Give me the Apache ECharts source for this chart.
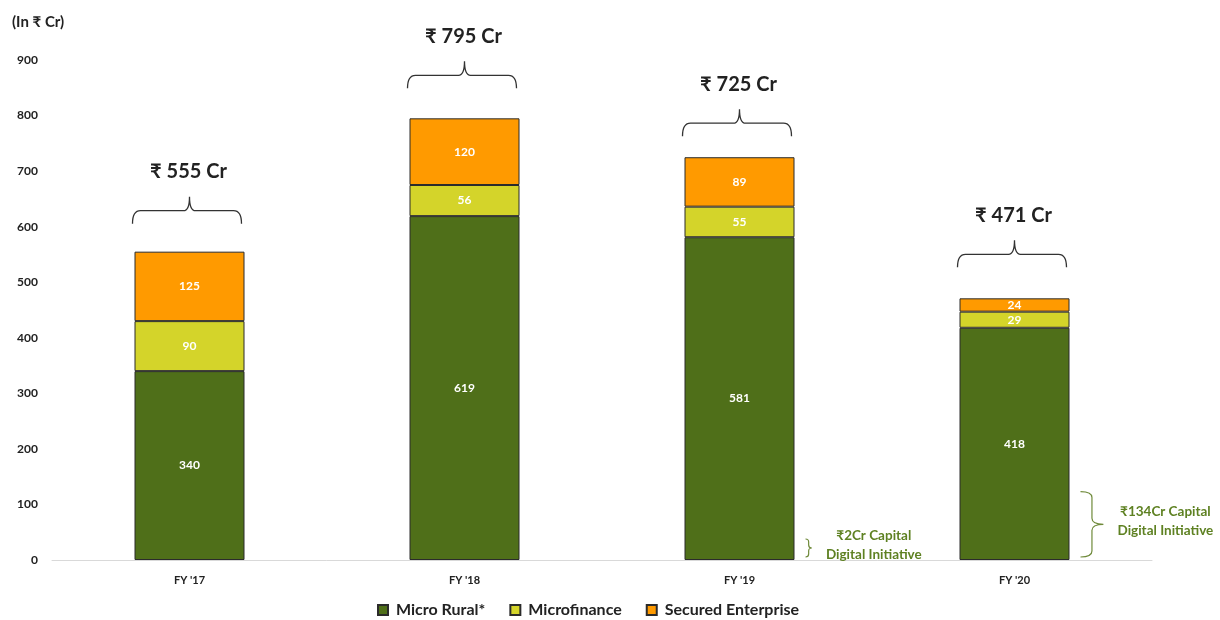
<!DOCTYPE html>
<html>
<head>
<meta charset="utf-8">
<script src="https://cdn.jsdelivr.net/npm/echarts@6/dist/echarts.min.js"></script>
<style>
  html, body { margin: 0; padding: 0; background: #fff; }
  #chart { width: 1220px; height: 620px; }
</style>
</head>
<body>
<div id="chart"></div>
<script>
// Disbursement mix by segment, in ₹ Cr
const categories = ["FY '17", "FY '18", "FY '19", "FY '20"];
const microRural = [340, 619, 581, 418];
const microfinance = [90, 56, 55, 29];
const securedEnterprise = [125, 120, 89, 24];
const totals = [555, 795, 725, 471];
// Capital Digital Initiative share within Micro Rural (only FY '19 and FY '20)
const capitalDigital = [null, null, 2, 134];
const yTicks = { min: 0, max: 900, interval: 100 };

// Extra vertical gap (px) between each stack and its total brace
const braceLift = [0, 2, -7, 3];

const FONT = 'Lato, "Noto Sans", "DejaVu Sans", sans-serif';
const C_RURAL = '#4F6F19';
const C_MFI = '#D4D42A';
const C_SEC = '#FF9A00';
const C_NOTE = '#5E8122';

const inBarLabel = {
  show: true,
  position: 'inside',
  color: '#fff',
  fontFamily: FONT,
  fontWeight: 'bold',
  fontSize: 12
};

function barSeries(name, data, color) {
  return {
    name: name,
    type: 'bar',
    stack: 'total',
    barWidth: '40%',
    data: data,
    itemStyle: { color: color, borderColor: '#2b2b2b', borderWidth: 1 },
    label: inBarLabel,
    emphasis: { disabled: true }
  };
}

// Curly brace over each stack with the total above it
function renderTotal(params, api) {
  const idx = api.value(0);
  const total = api.value(1);
  const top = api.coord([idx, total]);
  const band = api.size([1, 0])[0];
  const w = band * 0.4 / 2;
  const lift = braceLift[idx] || 0;
  const cx = top[0], yb = top[1] - lift;
  const x0 = cx - w - 2, x1 = cx + w - 3;
  const yEnd = yb - 28, yLine = yb - 41, yTip = yb - 55;
  const path = 'M' + x0 + ' ' + yEnd +
    ' Q' + x0 + ' ' + yLine + ' ' + (x0 + 8) + ' ' + yLine +
    ' L' + (cx - 6) + ' ' + yLine +
    ' Q' + cx + ' ' + yLine + ' ' + cx + ' ' + yTip +
    ' Q' + cx + ' ' + yLine + ' ' + (cx + 6) + ' ' + yLine +
    ' L' + (x1 - 8) + ' ' + yLine +
    ' Q' + x1 + ' ' + yLine + ' ' + x1 + ' ' + yEnd;
  return {
    type: 'group',
    children: [
      { type: 'path', shape: { pathData: path },
        style: { fill: null, stroke: '#333', lineWidth: 1.3 } },
      { type: 'text', x: cx - 1, y: yb - 80,
        style: { text: '₹ ' + total + ' Cr', fill: '#222', font: 'bold 20px ' + FONT,
                 align: 'center', verticalAlign: 'middle' } }
    ]
  };
}

// Right-facing brace beside the bar marking the Capital Digital Initiative part
function renderCapital(params, api) {
  const idx = api.value(0);
  const val = api.value(1);
  const base = api.coord([idx, 0]);
  const upper = api.coord([idx, val]);
  const band = api.size([1, 0])[0];
  const right = base[0] + band * 0.4 / 2;
  const yBot = base[1] - 3;
  const yTop = Math.min(upper[1] + 6, yBot - 18);
  const h = yBot - yTop;
  const bw = Math.min(23, h * 0.35);
  const xs = right + 11;
  const xm = xs + bw / 2;
  const xt = xs + bw;
  const ym = (yTop + yBot) / 2;
  const r = Math.min(6, h / 6);
  const path = 'M' + xs + ' ' + yTop +
    ' Q' + xm + ' ' + yTop + ' ' + xm + ' ' + (yTop + r) +
    ' L' + xm + ' ' + (ym - r) +
    ' Q' + xm + ' ' + ym + ' ' + xt + ' ' + ym +
    ' Q' + xm + ' ' + ym + ' ' + xm + ' ' + (ym + r) +
    ' L' + xm + ' ' + (yBot - r) +
    ' Q' + xm + ' ' + yBot + ' ' + xs + ' ' + yBot;
  return {
    type: 'group',
    children: [
      { type: 'path', shape: { pathData: path },
        style: { fill: null, stroke: '#6F8A3A', lineWidth: 1.2 } },
      { type: 'text', x: xt + 62, y: ym - 3,
        style: { text: '₹' + val + 'Cr Capital\nDigital Initiative', fill: C_NOTE,
                 font: 'bold 13.5px ' + FONT, lineHeight: 19,
                 align: 'center', verticalAlign: 'middle' } }
    ]
  };
}

const chart = echarts.init(document.getElementById('chart'), null, { renderer: 'canvas' });
chart.setOption({
  animation: false,
  backgroundColor: '#fff',
  textStyle: { fontFamily: FONT },
  title: {
    text: '(In ₹ Cr)',
    left: 7, top: 10,
    textStyle: { fontFamily: FONT, fontWeight: 'bold', fontSize: 15, color: '#222' }
  },
  grid: { left: 52, right: 68, top: 60, bottom: 60 },
  legend: {
    top: 597,
    left: 372,
    icon: 'rect',
    itemWidth: 10,
    itemHeight: 10,
    itemGap: 24,
    data: ['Micro Rural*', 'Microfinance', 'Secured Enterprise'],
    textStyle: { fontFamily: FONT, fontWeight: 'bold', fontSize: 16, color: '#222', padding: [0, 0, 0, 3] }
  },
  xAxis: {
    type: 'category',
    data: categories,
    axisLine: { lineStyle: { color: '#d9d9d9', width: 1 } },
    axisTick: { show: false },
    axisLabel: { margin: 15, fontFamily: FONT, fontWeight: 'bold', fontSize: 11, color: '#222' }
  },
  yAxis: {
    type: 'value',
    min: yTicks.min,
    max: yTicks.max,
    interval: yTicks.interval,
    axisLine: { show: false },
    axisTick: { show: false },
    splitLine: { show: false },
    axisLabel: { margin: 14, fontFamily: FONT, fontWeight: 'bold', fontSize: 12, color: '#222' }
  },
  series: [
    barSeries('Micro Rural*', microRural, C_RURAL),
    barSeries('Microfinance', microfinance, C_MFI),
    barSeries('Secured Enterprise', securedEnterprise, C_SEC),
    {
      type: 'custom',
      name: 'totals',
      renderItem: renderTotal,
      data: totals.map((v, i) => [i, v]),
      z: 5,
      silent: true
    },
    {
      type: 'custom',
      name: 'capital',
      renderItem: renderCapital,
      data: capitalDigital.map((v, i) => [i, v]).filter(d => d[1] != null),
      z: 5,
      silent: true
    }
  ]
});
</script>
</body>
</html>
